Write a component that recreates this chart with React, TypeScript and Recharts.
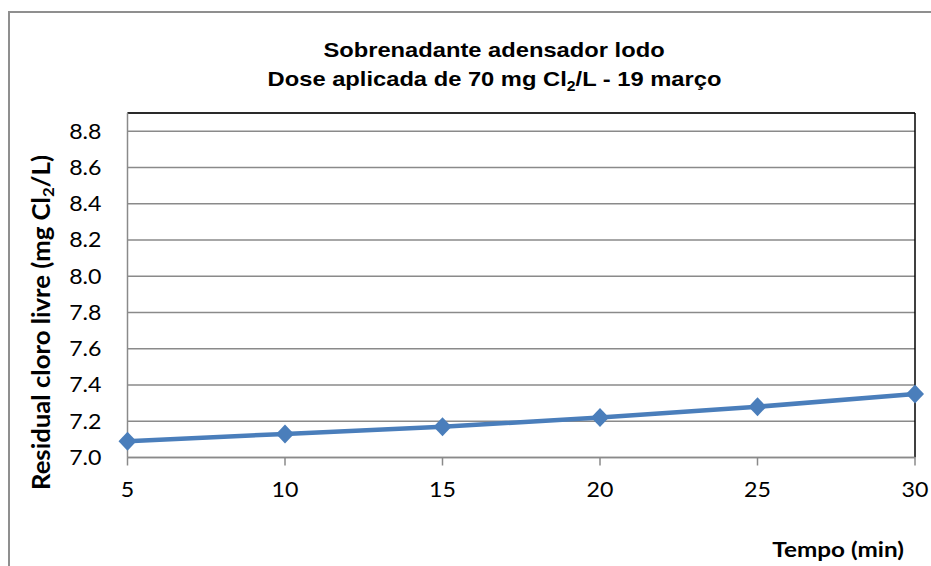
import React from 'react';
import { LineChart, Line, XAxis, YAxis, CartesianGrid, ReferenceLine } from 'recharts';

const tempo = [5, 10, 15, 20, 25, 30];
const residual = [7.09, 7.13, 7.17, 7.22, 7.28, 7.35];
const xTicks = [5, 10, 15, 20, 25, 30];
const yTicks = [7.0, 7.2, 7.4, 7.6, 7.8, 8.0, 8.2, 8.4, 8.6, 8.8];

const data = tempo.map((t, i) => ({ tempo: t, residual: residual[i] }));

const BLUE = '#4a7ebb';
const GRID = '#8a8a8a';
const STRETCH = 1.13;
const FONT = 'Lato, "Open Sans", sans-serif';
const TITLE_FONT = '"Liberation Sans", Arial, sans-serif';

const XTick = (props: any) => {
  const { x, y, payload } = props;
  return (
    <g transform={`translate(${x},${y}) scale(${STRETCH},1)`}>
      <text x={0} y={30} textAnchor="middle" fontFamily={FONT} fontSize={20.5} fill="#000">
        {payload.value}
      </text>
    </g>
  );
};

const YTick = (props: any) => {
  const { x, y, payload } = props;
  return (
    <g transform={`translate(${x},${y}) scale(${STRETCH},1)`}>
      <text x={0} y={7.4} textAnchor="end" fontFamily={FONT} fontSize={20.5} fill="#000">
        {Number(payload.value).toFixed(1)}
      </text>
    </g>
  );
};

const Diamond = (props: any) => {
  const { cx, cy, index } = props;
  if (cx == null || cy == null) return null;
  const w = 9;
  const h = 9.5;
  return (
    <polygon
      key={`d-${index}`}
      points={`${cx},${cy - h} ${cx + w},${cy} ${cx},${cy + h} ${cx - w},${cy}`}
      fill={BLUE}
    />
  );
};

export default function App() {
  return (
    <div style={{ position: 'absolute', left: 0, top: 0, width: 931, height: 566, overflow: 'hidden', background: '#fff' }}>
      <div
        style={{
          position: 'absolute',
          left: 8,
          top: 11,
          width: 1000,
          height: 1000,
          border: '2px solid #8f8f8f',
        }}
      />
      <div style={{ position: 'absolute', left: 0, top: 0 }}>
        <LineChart width={931} height={566} data={data} margin={{ top: 113, right: 16, bottom: 78.5, left: 0 }}>
          <CartesianGrid vertical={false} stroke={GRID} strokeWidth={1.5} />
          <XAxis
            dataKey="tempo"
            type="number"
            domain={[5, 30]}
            ticks={xTicks}
            height={30}
            stroke={GRID}
            strokeWidth={1.5}
            tickSize={8}
            tickMargin={2}
            tick={<XTick />}
          />
          <YAxis
            type="number"
            domain={[7, 8.9]}
            ticks={yTicks}
            width={127.5}
            stroke={GRID}
            strokeWidth={1.5}
            tickLine={false}
            tickSize={0}
            tickMargin={26}
            tick={<YTick />}
          />
          <ReferenceLine y={8.9} stroke="#000" strokeWidth={1.5} />
          <ReferenceLine x={30} stroke="#000" strokeWidth={1.5} />
          <Line
            type="linear"
            dataKey="residual"
            stroke={BLUE}
            strokeWidth={4.5}
            dot={<Diamond />}
            activeDot={false}
            isAnimationActive={false}
          />
        </LineChart>
      </div>
      <svg width={931} height={566} style={{ position: 'absolute', left: 0, top: 0, pointerEvents: 'none' }}>
        <g transform="translate(494,57) scale(1.13,1)">
          <text x={0} y={0} textAnchor="middle" fontFamily={TITLE_FONT} fontWeight="bold" fontSize={21} fill="#000">
            Sobrenadante adensador lodo
          </text>
        </g>
        <g transform="translate(494.5,85.5) scale(1.13,1)">
          <text x={0} y={0} textAnchor="middle" fontFamily={TITLE_FONT} fontWeight="bold" fontSize={21} fill="#000">
            Dose aplicada de 70 mg Cl<tspan dy={5} fontSize={14}>2</tspan>
            <tspan dy={-5}>/L - 19 março</tspan>
          </text>
        </g>
        <g transform={`translate(49.5,322.5) scale(${STRETCH},1) rotate(-90)`}>
          <text
            x={0}
            y={0}
            textAnchor="middle"
            fontFamily={FONT}
            fontWeight="bold"
            fontSize={21.5}
            textLength={335}
            lengthAdjust="spacingAndGlyphs"
            fill="#000"
          >
            Residual cloro livre (mg Cl<tspan dy={4} fontSize={14}>2</tspan>
            <tspan dy={-4}>/L)</tspan>
          </text>
        </g>
        <g transform={`translate(904,557) scale(${STRETCH},1)`}>
          <text x={0} y={0} textAnchor="end" fontFamily={FONT} fontWeight="bold" fontSize={21.5} fill="#000">
            Tempo (min)
          </text>
        </g>
      </svg>
    </div>
  );
}
